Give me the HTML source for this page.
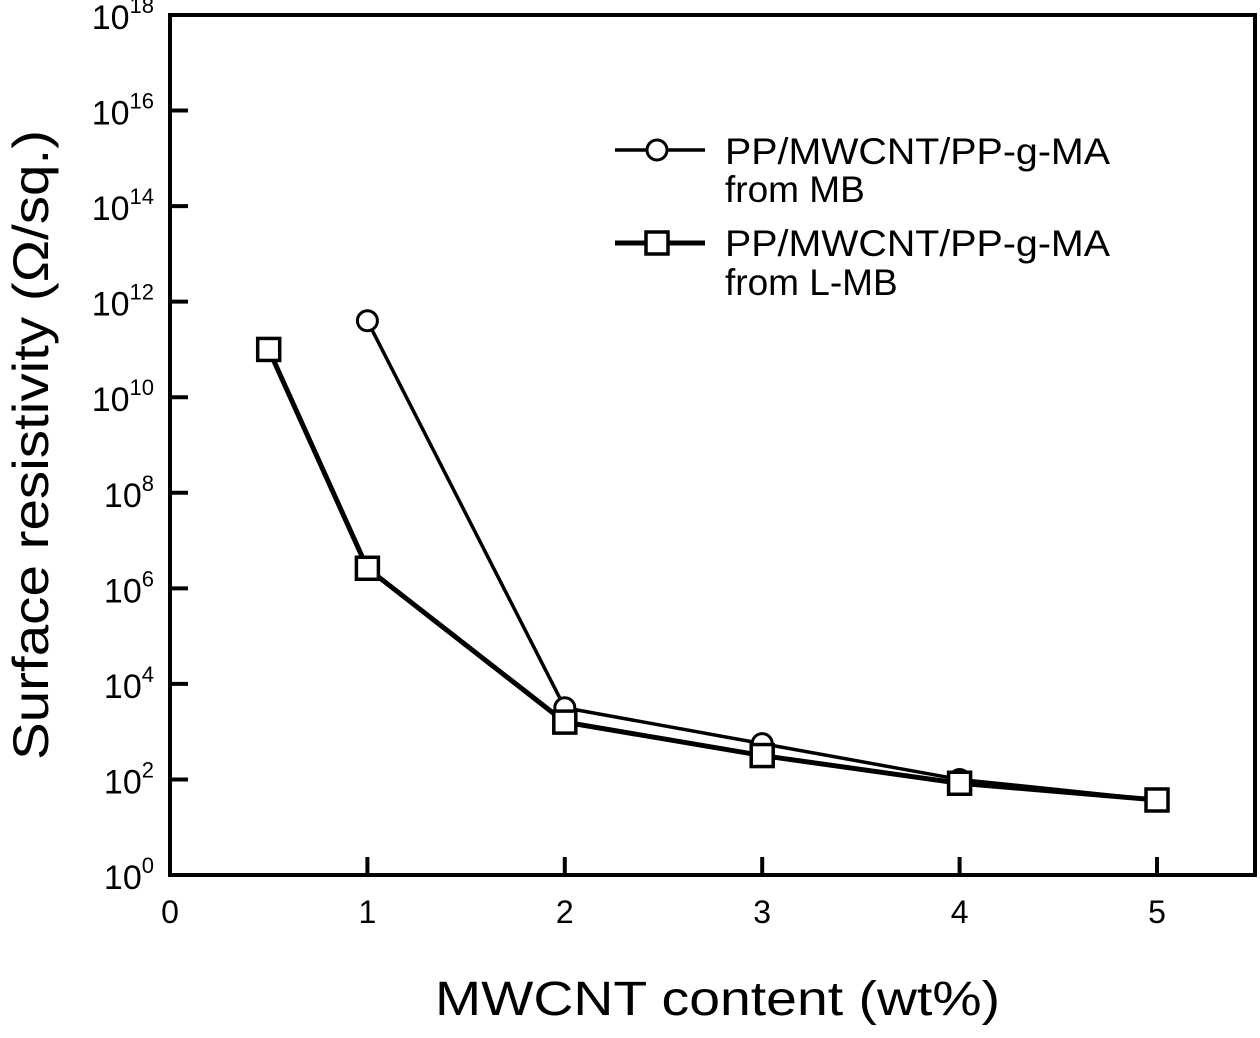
<!DOCTYPE html>
<html><head><meta charset="utf-8"><style>
body{margin:0;background:#fff}
svg text{font-family:"Liberation Sans",Arial,sans-serif;fill:#000}
</style></head><body>
<svg id="chart" width="1260" height="1033" xmlns="http://www.w3.org/2000/svg">
<g id="axes"></g><g id="series"></g><g id="legend"></g>
</svg>
<script>
const xTicks=[0,1,2,3,4,5];
const yTickExps=[0,2,4,6,8,10,12,14,16,18];
const mbX=[1,2,3,4,5];
const mbLog=[11.6,3.5,2.75,2.0,1.57];
const lmbX=[0.5,1,2,3,4,5];
const lmbLog=[11.0,6.42,3.2,2.5,1.92,1.57];
const L=170,R=1255,T=15,B=875;
const xs=v=>L+v*197.4;
const ys=e=>B-e*(B-T)/18;
const NS='http://www.w3.org/2000/svg';
function mk(tag,attrs,parent){const e=document.createElementNS(NS,tag);for(const k in attrs)e.setAttribute(k,attrs[k]);parent.appendChild(e);return e;}
const axes=document.getElementById('axes'),ser=document.getElementById('series'),leg=document.getElementById('legend');
const frame=mk('path',{d:`M${L},${T}H${R}V${B}H${L}Z`,fill:'none',stroke:'#000','stroke-width':4},axes);


xTicks.forEach(v=>{
 const t=mk('line',{x1:xs(v),x2:xs(v),y1:B,y2:B-18,stroke:'#000','stroke-width':4},axes);
 
 
 const lb=mk('text',{x:xs(v),y:B+48,'text-anchor':'middle','font-size':32},axes);
 lb.textContent=v;
 
 
});
yTickExps.forEach(e=>{
 const t=mk('line',{x1:L,x2:L+18,y1:ys(e),y2:ys(e),stroke:'#000','stroke-width':4},axes);
 
 
 const lb=mk('text',{x:L-16,y:ys(e)+14,'text-anchor':'end','font-size':34},axes);
 lb.innerHTML='10<tspan dy="-16" font-size="22">'+e+'</tspan>';
 
 
});
const xt=mk('text',{x:435,y:1015,'font-size':48,textLength:565,lengthAdjust:'spacingAndGlyphs'},axes);
xt.textContent='MWCNT content (wt%)';


const yt=mk('text',{x:0,y:0,'font-size':50,textLength:630,lengthAdjust:'spacingAndGlyphs',transform:'translate(48,760) rotate(-90)'},axes);
yt.textContent='Surface resistivity (Ω/sq.)';


function line(X,Y,w,name){
 const p=mk('polyline',{points:X.map((x,i)=>xs(x)+','+ys(Y[i])).join(' '),fill:'none',stroke:'#000','stroke-width':w},ser);
 
 
}
line(mbX,mbLog,3.5,'line-mb');
line(lmbX,lmbLog,5,'line-lmb');
mbX.forEach((x,i)=>{
 const c=mk('circle',{cx:xs(x),cy:ys(mbLog[i]),r:10,fill:'#fff',stroke:'#000','stroke-width':3},ser);
 
 
});
lmbX.forEach((x,i)=>{
 const s=mk('rect',{x:xs(x)-11,y:ys(lmbLog[i])-11,width:22,height:22,fill:'#fff',stroke:'#000','stroke-width':3.5},ser);
 
 
});
const l1=mk('line',{x1:615,x2:705,y1:150,y2:150,stroke:'#000','stroke-width':3.5},leg);


const c1=mk('circle',{cx:657,cy:150,r:10,fill:'#fff',stroke:'#000','stroke-width':3},leg);


const l2=mk('line',{x1:615,x2:705,y1:243,y2:243,stroke:'#000','stroke-width':5},leg);


const s2=mk('rect',{x:646,y:232,width:22,height:22,fill:'#fff',stroke:'#000','stroke-width':3.5},leg);


[['PP/MWCNT/PP-g-MA',164,385],['from MB',202,0],['PP/MWCNT/PP-g-MA',256,385],['from L-MB',295,0]].forEach(([t,y,w])=>{
 const a={x:725,y:y,'font-size':37};
 if(w){a.textLength=w;a.lengthAdjust='spacingAndGlyphs';}
 const e=mk('text',a,leg);
 e.textContent=t;
 
 
});
</script>
</body></html>
